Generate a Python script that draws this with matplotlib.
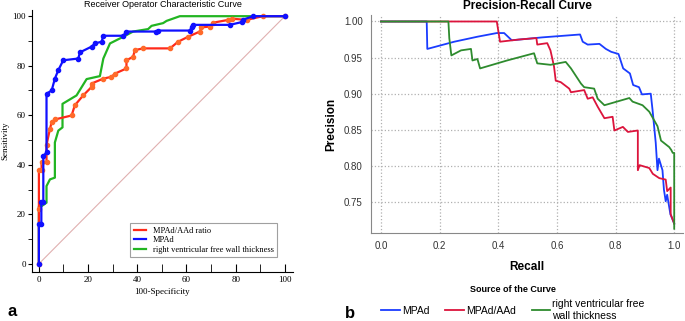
import matplotlib.pyplot as plt
from matplotlib.lines import Line2D

# ---- ROC data (100-Specificity, Sensitivity) ----
roc_ratio_x = [0, 0, 0, 1.1, 1.1, 3.1, 3.1, 4.5, 5.2, 6.5, 13.3, 14.6, 18, 21.4, 21.4, 26.2, 29.5,
               30.9, 35.6, 35.6, 38.3, 39, 42.4, 53.3, 56.6, 60.7, 65.4, 66.1, 69.5, 70.9, 77, 78.5,
               84.4, 91, 100]
roc_ratio_y = [0, 22, 38, 38, 41, 41, 48, 54.5, 57.2, 58.3, 59.9, 64, 68, 71.4, 72.8, 74.8, 75.5,
               76.8, 78.9, 82.2, 83.6, 86.3, 87, 87, 89.7, 91.7, 93.8, 95.5, 95.8, 97.4, 98.5, 99,
               98.5, 100, 100]

roc_mpad_x = [0, 0, 1, 1, 1.8, 1.8, 3.1, 3.1, 5.2, 6.5, 7.9, 9.9, 16, 16.7, 21.4, 22.8, 25.5, 26.2,
              34.3, 35.6, 47.8, 48.5, 61.4, 62.1, 62.7, 77.6, 82.4, 83, 87.1, 100]
roc_mpad_y = [0, 16, 16, 25, 25, 43.5, 45, 68.7, 70, 74.8, 78.2, 82.2, 82.9, 85.4, 87.7, 89, 89.7,
              92.1, 92.1, 93.8, 93.8, 94.2, 94.2, 95.6, 96.5, 96.5, 97.6, 98.6, 100, 100]

roc_rvfw_x = [0, 0, 1.1, 3.1, 3.1, 4.5, 6.5, 6.5, 6.5, 7.9, 9.6, 9.6, 15.3, 19.4, 24.8, 26.2, 28.9,
              34.3, 38.3, 44.4, 45.8, 50.5, 51.9, 57.3, 100]
roc_rvfw_y = [0, 23.3, 23.3, 24.7, 31.4, 34.1, 34.8, 46.3, 49, 53.8, 55.1, 64.6, 68, 74.6, 75.8,
              82.9, 89, 91.7, 93.8, 94.8, 96.1, 97.2, 98.1, 100, 100]

# ---- Precision-Recall data ----
pr_mpad_r = [0, 0.156, 0.158, 0.25, 0.33, 0.395, 0.42, 0.446, 0.55, 0.679, 0.688, 0.705, 0.745,
             0.767, 0.785, 0.81, 0.826, 0.849, 0.86, 0.88, 0.89, 0.92, 0.926, 0.937, 0.943, 0.948,
             0.96, 0.965, 0.971, 0.976, 0.987, 1.0]
pr_mpad_p = [1.0, 1.0, 0.962, 0.972, 0.979, 0.984, 0.984, 0.974, 0.978, 0.982, 0.972, 0.968, 0.969,
             0.962, 0.958, 0.955, 0.935, 0.928, 0.912, 0.909, 0.899, 0.9, 0.878, 0.832, 0.794, 0.81,
             0.794, 0.767, 0.751, 0.76, 0.733, 0.72]

pr_ratio_r = [0, 0.395, 0.406, 0.47, 0.53, 0.533, 0.567, 0.578, 0.59, 0.596, 0.613, 0.642, 0.648,
              0.693, 0.705, 0.722, 0.739, 0.762, 0.79, 0.796, 0.825, 0.842, 0.876, 0.876, 0.882,
              0.915, 0.927, 0.949, 0.971, 0.976, 0.988, 0.988, 1.0]
pr_ratio_p = [1.0, 1.0, 0.972, 0.975, 0.977, 0.968, 0.970, 0.96, 0.938, 0.918, 0.916, 0.907, 0.902,
              0.905, 0.893, 0.895, 0.882, 0.866, 0.868, 0.849, 0.854, 0.847, 0.849, 0.794, 0.801,
              0.797, 0.789, 0.783, 0.781, 0.765, 0.77, 0.733, 0.72]

pr_rvfw_r = [0, 0.23, 0.233, 0.24, 0.273, 0.307, 0.312, 0.329, 0.338, 0.43, 0.522, 0.533, 0.578,
             0.63, 0.648, 0.682, 0.693, 0.727, 0.739, 0.762, 0.847, 0.858, 0.892, 0.915, 0.943,
             0.955, 0.983, 0.99, 0.995, 1.0, 1.0]
pr_rvfw_p = [1.0, 1.0, 0.977, 0.953, 0.96, 0.962, 0.946, 0.948, 0.935, 0.946, 0.956, 0.942, 0.94,
             0.944, 0.935, 0.914, 0.909, 0.907, 0.893, 0.884, 0.894, 0.889, 0.884, 0.875, 0.855,
             0.835, 0.826, 0.822, 0.818, 0.818, 0.713]

W, H = 685, 321
fig = plt.figure(figsize=(W / 100, H / 100), dpi=100)

# ===== panel a: ROC =====
ax = fig.add_axes([32 / W, 1 - 272 / H, 261 / W, 262 / H])
serif = 'Liberation Serif'
ax.plot([0, 100], [0, 100], color='#e0b0b0', lw=0.8)
ax.plot(roc_rvfw_x, roc_rvfw_y, color='#22b522', lw=1.6,
        label='right ventricular free wall thickness')
ax.plot(roc_ratio_x, roc_ratio_y, color='#ff2a1a', lw=1.6, marker='o', ms=3,
        mfc='#ff6a2a', mec='#ff6a2a', label='MPAd/AAd ratio')
ax.plot(roc_mpad_x, roc_mpad_y, color='#1010ff', lw=1.6, marker='o', ms=3,
        label='MPAd')
ax.set_xlim(-2.8, 103.3)
ax.set_ylim(-3.3, 102.5)
ax.set_xticks(range(0, 101, 20))
ax.set_yticks(range(0, 101, 20))
ax.set_xticks(range(10, 100, 20), minor=True)
ax.set_yticks(range(10, 100, 20), minor=True)
ax.spines['top'].set_visible(False)
ax.spines['right'].set_visible(False)
ax.tick_params(axis='x', direction='in', length=6, labelsize=6.5, pad=3)
ax.tick_params(axis='x', which='minor', direction='in', length=6)
ax.tick_params(axis='y', direction='out', length=3, labelsize=6.5, pad=1.5)
ax.tick_params(axis='y', which='minor', direction='out', length=3)
for lbl in ax.get_xticklabels() + ax.get_yticklabels():
    lbl.set_fontfamily(serif)
ax.set_xlabel('100-Specificity', fontsize=6.5, family=serif, labelpad=3)
ax.set_ylabel('Sensitivity', fontsize=6.5, family=serif, labelpad=2)
ax.set_title('Receiver Operator Characteristic Curve', fontsize=6.5,
             family='Liberation Sans', pad=2)
handles = [Line2D([], [], color='#ff2a1a', lw=1.6), Line2D([], [], color='#1010ff', lw=1.6),
           Line2D([], [], color='#22b522', lw=1.6)]
leg = ax.legend(handles, ['MPAd/AAd ratio', 'MPAd', 'right ventricular free wall thickness'],
                loc='lower right', bbox_to_anchor=(0.955, 0.04), fancybox=False,
                prop={'family': serif, 'size': 6}, handlelength=1.5,
                borderpad=0.4, labelspacing=0.2)
leg.get_frame().set_edgecolor('#888888')
leg.get_frame().set_linewidth(0.8)
fig.text(8 / W, 1 - 316 / H, 'a', fontsize=12, fontweight='bold', family='Liberation Sans')

# ===== panel b: Precision-Recall =====
bx = fig.add_axes([371 / W, 1 - 233 / H, 312 / W, 218 / H])
bx.plot(pr_mpad_r, pr_mpad_p, color='#1a3cff', lw=1.3, label='MPAd')
bx.plot(pr_ratio_r, pr_ratio_p, color='#dc143c', lw=1.3, label='MPAd/AAd')
bx.plot(pr_rvfw_r, pr_rvfw_p, color='#2e8b2e', lw=1.3,
        label='right ventricular free\nwall thickness')
bx.set_xlim(-0.034, 1.03)
bx.set_ylim(0.707, 1.009)
bx.set_xticks([0.0, 0.2, 0.4, 0.6, 0.8, 1.0])
bx.set_yticks([0.75, 0.80, 0.85, 0.90, 0.95, 1.00])
bx.set_xticklabels(['0.0', '0.2', '0.4', '0.6', '0.8', '1.0'])
bx.set_yticklabels(['0.75', '0.80', '0.85', '0.90', '0.95', '1.00'])
bx.grid(True, linestyle=':', color='#b0b0b0', lw=0.9)
for s in ['top', 'right']:
    bx.spines[s].set_visible(False)
for s in ['left', 'bottom']:
    bx.spines[s].set_color('#888888')
bx.tick_params(length=0, labelsize=7, labelcolor='#333333', pad=6)
for lbl in bx.get_xticklabels() + bx.get_yticklabels():
    lbl.set_fontfamily('Liberation Sans')
bx.set_xlabel('Recall', fontsize=8.5, fontweight='bold', family='Liberation Sans', labelpad=7)
bx.set_ylabel('Precision', fontsize=8.5, fontweight='bold', family='Liberation Sans', labelpad=5)
bx.set_title('Precision-Recall Curve', fontsize=8.5, fontweight='bold',
             family='Liberation Sans', pad=4)
leg2 = fig.legend(*bx.get_legend_handles_labels(), loc='center', ncol=3,
                  bbox_to_anchor=(513 / W, 1 - 303 / H), frameon=False,
                  title='Source of the Curve', handlelength=1.8, handletextpad=0.2,
                  columnspacing=1.5, prop={'family': 'Liberation Sans', 'size': 7.5},
                  title_fontproperties={'family': 'Liberation Sans', 'size': 6.5,
                                        'weight': 'bold'})
fig.text(345 / W, 1 - 318 / H, 'b', fontsize=12, fontweight='bold', family='Liberation Sans')

fig.savefig('out.png', dpi=100)
